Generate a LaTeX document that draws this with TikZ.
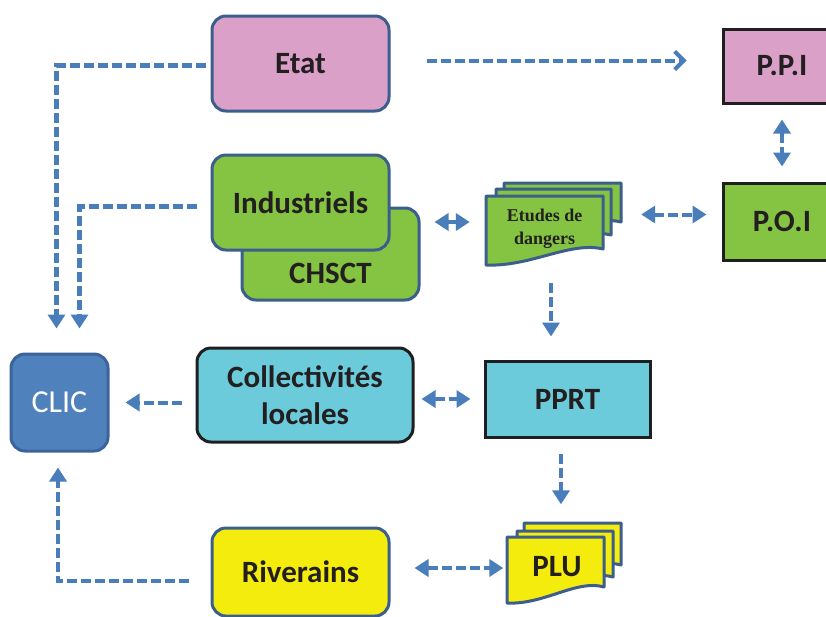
\documentclass[tikz,border=0pt]{standalone}
\usepackage{fontspec}
\setmainfont{Carlito}
\newfontfamily\sheetfont{Liberation Serif}
\usetikzlibrary{positioning, arrows.meta, calc}
\definecolor{pinkcol}{RGB}{219,160,200}
\definecolor{greencol}{RGB}{132,196,66}
\definecolor{cyancol}{RGB}{107,203,219}
\definecolor{yellowcol}{RGB}{244,236,12}
\definecolor{cliccol}{RGB}{79,129,189}
\definecolor{clicedge}{RGB}{60,100,155}
\definecolor{edgecol}{RGB}{59,94,140}
\definecolor{arrowcol}{RGB}{74,126,187}
\definecolor{textcol}{RGB}{35,31,32}

% one sheet of a document stack: x, y, width, height, fill
\newcommand{\docsheet}[5]{%
  \draw[sheet, fill=#5] (#1,#2) -- ({#1+#3},#2) -- ({#1+#3},{#2+#4-16})
    .. controls ({#1+0.72*#3},{#2+#4-24}) and ({#1+0.38*#3},{#2+#4+2}) .. (#1,{#2+#4}) -- cycle;}

\begin{document}
\begin{tikzpicture}[
			x=1pt, y=-1pt,
			rbox/.style={
				draw=edgecol,
				rounded corners=14pt,
				line width=3pt,
				minimum width=177pt,
				minimum height=95pt,
				align=center,
				text=textcol,
				font=\fontsize{31}{37}\selectfont\bfseries
			},
			sbox/.style={
				draw=black!88,
				line width=3pt,
				align=center,
				text=textcol,
				font=\fontsize{31}{37}\selectfont\bfseries
			},
			sheet/.style={
				draw=edgecol,
				line width=3pt,
				line join=round
			},
			flow/.style={
				draw=arrowcol,
				line width=4pt,
				dash pattern=on 10pt off 4pt,
				-{Triangle[length=14pt,width=17pt]}
			},
			twoway/.style={
				flow,
				{Triangle[length=14pt,width=17pt]}-{Triangle[length=14pt,width=17pt]}
			}
			]
			\useasboundingbox (0,0) rectangle (826,616);
			\clip (0,0) rectangle (826,616);
			\fill[white] (0,0) rectangle (826,616);
			% Actors
			\node[rbox, fill=pinkcol] (etat) at (300.5,63.5) {Etat};
			\node[rbox, fill=greencol, minimum height=92pt] (chsct) at (330.5,254) {};
			\node[text=textcol, font=\fontsize{31}{37}\selectfont\bfseries] (chscttext) at ($(chsct.center)+(0,19)$) {CHSCT};
			\node[rbox, fill=greencol] (industriels) at (300.5,202.5) {Industriels};
			\node[rbox, fill=cyancol, draw=black!88, minimum width=216pt, minimum height=94pt] (coll) at (305,395) {Collectivit\'es\\locales};
			\node[rbox, fill=yellowcol, minimum height=88pt] (riverains) at (300.5,572) {Riverains};
			\node[rbox, fill=cliccol, draw=clicedge, minimum width=97pt, minimum height=97pt,
				text=white, font=\fontsize{32}{37}\selectfont] (clic) at (59.5,402.5) {CLIC};
			% Plans
			\node[sbox, fill=pinkcol, minimum width=118pt, minimum height=74pt] (ppi) at (782,66) {P.P.I};
			\node[sbox, fill=greencol, minimum width=118pt, minimum height=77pt] (poi) at (782,221.5) {P.O.I};
			\node[sbox, fill=cyancol, minimum width=165pt, minimum height=76pt] (pprt) at (567.5,399) {PPRT};
			% Document stacks
			\docsheet{504}{183}{117}{55}{greencol}
			\docsheet{496}{189}{115}{62}{greencol}
			\docsheet{486}{196}{117}{69}{greencol}
			\node[minimum width=117pt, minimum height=66pt, align=center, text=textcol,
				font=\sheetfont\fontsize{18}{23}\selectfont\bfseries] (etudes) at (544.5,229) {Etudes de\\dangers};
			\docsheet{524}{523}{97}{58}{yellowcol}
			\docsheet{517}{531}{96}{62}{yellowcol}
			\docsheet{507}{537}{97}{66}{yellowcol}
			\node[minimum width=97pt, minimum height=65pt, text=textcol,
				font=\fontsize{31}{37}\selectfont\bfseries] (plu) at (557,567) {PLU};
			% Links
			\draw[flow, -{Straight Barb[length=9pt,width=18pt]}, shorten <=36pt, shorten >=35pt]
				($(etat.east)+(0,-3)$) -- ($(etat.east -| ppi.west)+(0,-3)$);
			\draw[twoway, shorten <=15pt, shorten >=15pt] (ppi.south) -- (poi.north);
			\draw[twoway, shorten <=38pt, shorten >=15pt]
				($(etudes.east |- poi.west)+(0,-7)$) -- ($(poi.west)+(0,-7)$);
			\draw[twoway, shorten <=14pt, shorten >=16pt]
				($(chsct.east |- etudes.west)+(0,-7)$) -- ($(etudes.west)+(0,-7)$);
			\draw[flow, shorten <=21pt, shorten >=23pt]
				($(etudes.south)+(6.5,0)$) -- ($(pprt.north -| etudes.south)+(6.5,0)$);
			\draw[twoway, shorten <=7pt, shorten >=13pt] (coll.east |- pprt.west) -- (pprt.west);
			\draw[flow, shorten <=14pt, shorten >=16pt] (coll.west |- clic.east) -- (clic.east);
			\draw[flow, shorten <=15pt, shorten >=16pt]
				($(pprt.south)+(-6.5,0)$) -- ($(plu.north -| pprt.south)+(-6.5,-14)$);
			\draw[twoway, shorten <=24pt, shorten >=5pt]
				($(riverains.east)+(0,-4)$) -- ($(riverains.east -| plu.west)+(0,-4)$);
			\draw[flow, line width=5pt] ($(etat.west)+(-5,2)$) -| ($(clic.north)+(-3,-24)$);
			\draw[flow, line width=5pt] ($(industriels.west)+(-14,4)$) -| ($(clic.north)+(20,-24)$);
			\draw[flow] ($(riverains.west)+(-22,9)$) -| ($(clic.south)+(-1.5,15)$);
		\end{tikzpicture}
\end{document}
